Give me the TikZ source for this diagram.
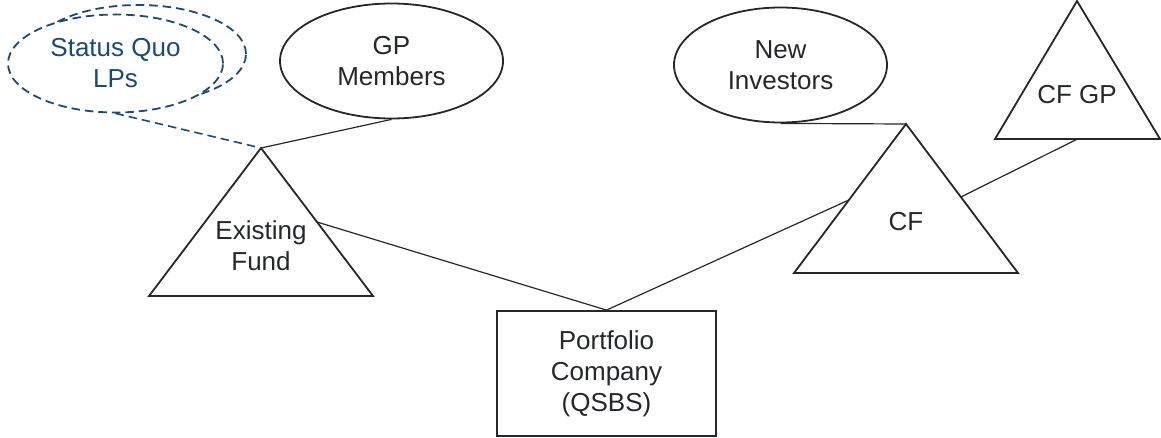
\documentclass[tikz,border=0pt]{standalone}
\usepackage{fontspec}
\setmainfont{Liberation Sans}
\usetikzlibrary{shapes.geometric,calc}
\definecolor{ink}{HTML}{24282D}
\definecolor{navy}{HTML}{1B4A72}
\begin{document}
\begin{tikzpicture}[x=1pt,y=-1pt,
  lbl/.style={font=\fontsize{26}{31}\selectfont, text=ink, align=center, inner sep=0pt},
  ell/.style={ellipse, draw=ink, line width=1.8pt, fill=white, inner sep=0pt, lbl},
  dashedline/.style={dash pattern=on 8.5pt off 5pt},
  tri/.style={draw=ink, line width=1.8pt, line join=miter},
  box/.style={rectangle, draw=ink, line width=1.8pt, fill=white, lbl},
  link/.style={draw=ink, line width=1.2pt},
  dlink/.style={draw=navy, line width=1.6pt, dashedline},
]
\useasboundingbox (0,0) rectangle (1161,437);

% Status Quo LPs (two stacked dashed ellipses)
\node[ell, draw=navy, dashedline, minimum width=215pt, minimum height=98pt] (sqback) at (138.5,54) {};
\node[ell, draw=navy, text=navy, dashedline, minimum width=215pt, minimum height=98pt] (sq) at (115.5,63.5) {Status Quo\\LPs};

% GP Members
\node[ell, minimum width=223pt, minimum height=115pt] (gp) at (391.5,61) {GP\\Members};

% New Investors
\node[ell, minimum width=213pt, minimum height=115pt] (ni) at (780.5,65) {New\\Investors};

% Existing Fund triangle
\coordinate (efA) at (261,148);
\coordinate (efL) at (149,296);
\coordinate (efR) at (373,296);
\draw[tri] (efA) -- (efL) -- (efR) -- cycle;
\node[lbl] (ef) at (261,246) {Existing\\Fund};
\coordinate (efRm) at ($(efA)!0.5!(efR)$);

% CF triangle
\coordinate (cfA) at (906,124);
\coordinate (cfL) at (794,273);
\coordinate (cfR) at (1018,273);
\draw[tri] (cfA) -- (cfL) -- (cfR) -- cycle;
\node[lbl] (cf) at (906,222) {CF};
\coordinate (cfLm) at ($(cfA)!0.51!(cfL)$);
\coordinate (cfRm) at ($(cfA)!0.49!(cfR)$);

% CF GP triangle
\coordinate (gpA) at (1077,1);
\coordinate (gpL) at (995,139);
\coordinate (gpR) at (1160,139);
\draw[tri] (gpA) -- (gpL) -- (gpR) -- cycle;
\node[lbl] (cfgp) at (1077,95) {CF GP};
\coordinate (gpB) at ($(gpL)!0.5!(gpR)$);

% Portfolio Company
\node[box, minimum width=219pt, minimum height=125pt] (pc) at (606.5,373.5) {Portfolio\\Company\\(QSBS)};

% Connectors
\draw[dlink] (sq.south) -- (efA);
\draw[link] (gp.south) -- (efA);
\draw[link] (efRm) -- (pc.north);
\draw[link] (pc.north) -- (cfLm);
\draw[link] (ni.south) -- (cfA);
\draw[link] (gpB) -- (cfRm);
\end{tikzpicture}
\end{document}
